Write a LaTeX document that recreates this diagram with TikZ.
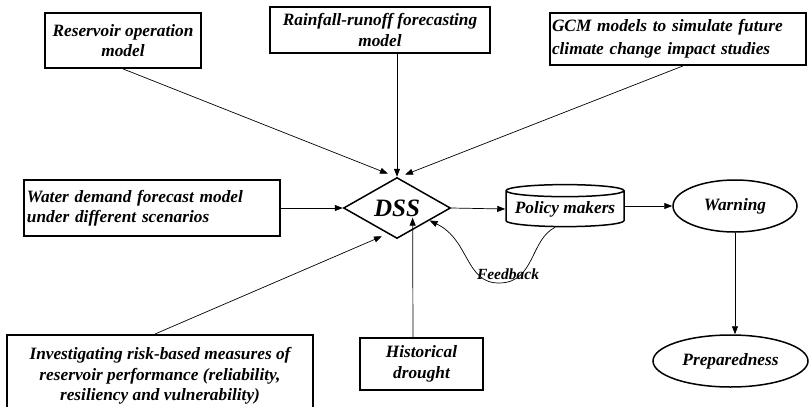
\documentclass[tikz,border=0pt]{standalone}
\usepackage{fontspec}
\setmainfont{Liberation Serif}
\usepackage{tikz}
\usetikzlibrary{arrows.meta,positioning,calc,shapes.geometric}
\tikzset{
  % framed input model, bold italic text
  mdl/.style   = {rectangle, draw, line width=1.8pt, inner sep=3pt,
                  font=\fontsize{17.3}{20.5}\selectfont\bfseries\itshape},
  oval/.style  = {ellipse, draw, line width=1.5pt, inner sep=0pt,
                  font=\fontsize{17.3}{20.5}\selectfont\bfseries\itshape},
  lane/.style  = {-{Triangle[length=8pt,width=6pt]}, line width=0.7pt},
  tag/.style   = {font=\fontsize{15.5}{17}\selectfont\bfseries\itshape},
}
\begin{document}
\begin{tikzpicture}[x=1pt,y=-1pt]
\useasboundingbox (0,0) rectangle (809,407);
% inputs
\node[mdl, minimum width=156, minimum height=55, align=center] (rom) at (123,40.5)
  {Reservoir operation\\model};
\node[mdl, minimum width=220, minimum height=46, align=center] (rrf) at (380,30)
  {Rainfall-runoff forecasting\\model};
\node[mdl, minimum width=256, minimum height=52, inner xsep=1pt, text width=252, align=left,
      font=\fontsize{17.3}{23}\selectfont\bfseries\itshape] (gcm) at (678,39)
  {GCM models to simulate future\\climate change impact studies};
\node[mdl, minimum width=256, minimum height=56, inner xsep=2pt, text width=250, align=left] (wdf) at (152,208)
  {Water demand forecast model\\under different scenarios};
\node[mdl, minimum width=306, minimum height=82, align=center, anchor=north] (inv) at (160,334)
  {Investigating risk-based measures of\\reservoir performance (reliability,\\resiliency and vulnerability)};
\node[mdl, minimum width=123, minimum height=52, align=center] (hist) at (421.5,364)
  {Historical\\drought};
% decision system and outputs
\node[diamond, draw, line width=1.5pt, minimum width=107, minimum height=61, inner sep=0pt,
      label={[font=\fontsize{25}{27}\selectfont\bfseries\itshape]center:DSS}] (dss) at (397,208) {};
\node[cylinder, shape border rotate=90, draw, line width=1.5pt, aspect=0.12,
      minimum width=118, minimum height=42, inner sep=0pt,
      font=\fontsize{17.3}{20.5}\selectfont\bfseries\itshape] (pol) at (565,209) {Policy makers};
\node[oval, minimum width=124, minimum height=52] (warn) at (735,206) {\raisebox{4pt}{Warning}};
\node[oval, minimum width=155, minimum height=52] (prep) at (730.5,361) {Preparedness};
% connectors
\draw[lane] (rom.south) -- ($(dss.north)+(-9,-3)$);
\draw[lane] (rrf.south -| dss.north) -- (dss.north);
\draw[lane] ($(gcm.south)+(5,0)$) -- ($(dss.north)+(8,-2)$);
\draw[lane] (wdf.east) -- (dss.west);
\draw[lane] ($(inv.north)+(-5,0)$) -- ($(dss.south)+(-15,-3)$);
\draw[lane] (hist.north -| {$(dss.south)+(16,0)$}) -- ($(dss.south)!0.5!(dss.east)+(-11.5,-6)$ |- 0,233);
\draw[lane] (dss.east) -- (pol.west);
\draw[lane] (pol.east |- warn.west) -- (warn.west);
\draw[lane] (warn.south) -- (prep.north -| warn.south);
% feedback loop
\coordinate (fbk) at (500,283);
\draw[lane] ($(pol.south)+(-10,0)$) .. controls (530,240) and (535,282) .. (fbk)
  .. controls (465,284) and (470,240) .. ($(dss.east)!0.4!(dss.south)$);
\node[tag] at (508,274) {Feedback};
\end{tikzpicture}
\end{document}
